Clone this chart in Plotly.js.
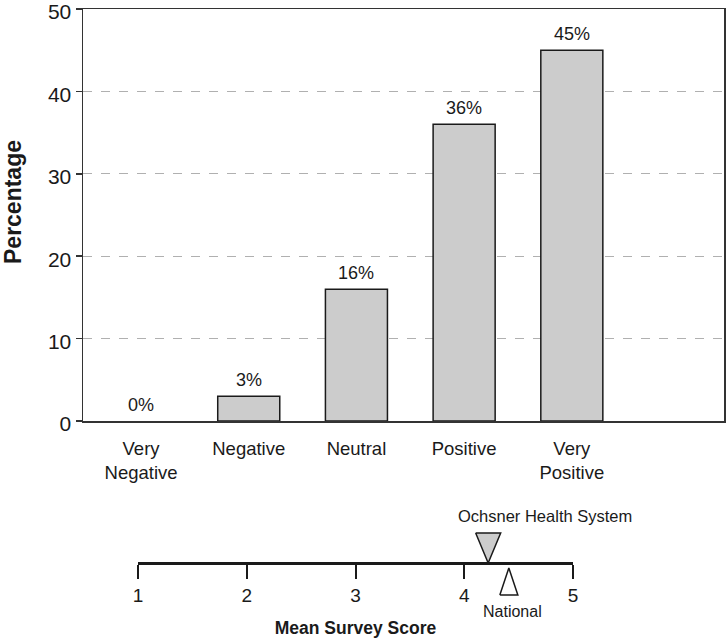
<!DOCTYPE html>
<html>
<head>
<meta charset="utf-8">
<script src="https://cdn.plot.ly/plotly-3.0.1.min.js"></script>
<style>html,body{margin:0;padding:0;background:#fff;}#chart{width:726px;height:642px;}</style>
</head>
<body>
<div id="chart"></div>
<script>
// ---- data ----
const categories = ["Very<br>Negative", "Negative", "Neutral", "Positive", "Very<br>Positive"];
const percentages = [0, 3, 16, 36, 45];
const yTicks = [0, 10, 20, 30, 40, 50];
const scoreTicks = [1, 2, 3, 4, 5];
const markerNames = ["Ochsner Health System", "National"];
const markerScores = [4.22, 4.41];

// ---- styling ----
const FONT = "Liberation Sans, Arial, Helvetica, sans-serif";
const INK = "#1a1a1a";
const catIdx = categories.map((_, i) => i);

const L = 83, R = 2, T = 9, B = 10;
const W = 726 - L - R, H = 642 - T - B;
const x2dom = [(138 - L) / W, (573 - L) / W];
const x2pxPerUnit = (573 - 138) / 4;
const y2dom = [(642 - B - 607) / H, (642 - B - 507) / H];
const y2range = [-44, 56];

const traces = [];
traces.push({
  type: "bar",
  x: catIdx,
  y: percentages,
  width: 0.576,
  marker: { color: "#cccccc", line: { color: INK, width: percentages.map(v => v > 0 ? 1.5 : 0) } },
  hoverinfo: "skip",
  xaxis: "x", yaxis: "y"
});

const triW = [25, 18], triH = [30, 27];
const triDir = [1, -1];
const triFill = ["#cccccc", "#ffffff"];
markerScores.forEach((s, i) => {
  const hw = triW[i] / 2 / x2pxPerUnit;
  let xs = [s - hw, s + hw, s, s - hw], ys;
  if (triDir[i] === 1) ys = [triH[i], triH[i], 0, triH[i]];
  else ys = [-5 - triH[i], -5 - triH[i], -5, -5 - triH[i]];
  traces.push({
    type: "scatter", mode: "lines", x: xs, y: ys,
    fill: "toself", fillcolor: triFill[i],
    line: { color: INK, width: 1.5 },
    hoverinfo: "skip",
    xaxis: "x2", yaxis: "y2"
  });
});

const annotations = percentages.map((v, i) => ({
  xref: "x", yref: "y", x: catIdx[i], y: v,
  yanchor: "bottom", xanchor: "center", yshift: 4,
  text: v + "%", showarrow: false,
  font: { family: FONT, size: 18, color: INK }
}));
annotations.push({
  xref: "x2", yref: "y2", x: markerScores[0], y: triH[0] + 6,
  xshift: 57, xanchor: "center", yanchor: "bottom",
  text: markerNames[0], showarrow: false,
  font: { family: FONT, size: 16.5, color: INK }
});
annotations.push({
  xref: "x2", yref: "y2", x: markerScores[1], y: -5 - triH[1] - 6,
  xshift: 4, xanchor: "center", yanchor: "top",
  text: markerNames[1], showarrow: false,
  font: { family: FONT, size: 16, color: INK }
});
// y-axis title (placed slightly above plot centre, as in the reference)
annotations.push({
  xref: "paper", yref: "paper", x: 0, y: (642 - B - 202) / H,
  xshift: 13 - L, xanchor: "center", yanchor: "middle",
  textangle: -90, text: "<b>Percentage</b>", showarrow: false,
  font: { family: FONT, size: 23, color: INK }
});

const layout = {
  width: 726, height: 642,
  margin: { l: L, r: R, t: T, b: B },
  paper_bgcolor: "#fff", plot_bgcolor: "#fff",
  showlegend: false,
  font: { family: FONT, color: INK },
  xaxis: {
    domain: [0, 1],
    range: [-0.539, 5.413],
    tickmode: "array", tickvals: catIdx, ticktext: categories,
    ticks: "", showgrid: false, zeroline: false,
    showline: true, linecolor: "#333", linewidth: 1.5, mirror: true,
    tickfont: { family: FONT, size: 18.5, color: INK },
    ticklabelstandoff: 10,
    fixedrange: true, anchor: "y"
  },
  yaxis: {
    domain: [(642 - B - 421) / H, 1],
    range: [0, 50],
    tickmode: "array", tickvals: yTicks,
    ticks: "outside", ticklen: 6, tickcolor: "#333", tickwidth: 1.5,
    ticklabeloverflow: "allow",
    ticklabelshift: 3,
    showgrid: true, gridcolor: "#b0b0b0", griddash: "dash", gridwidth: 1,
    zeroline: false,
    showline: true, linecolor: "#333", linewidth: 1.5, mirror: true,
    tickfont: { family: FONT, size: 21, color: INK },
    fixedrange: true, anchor: "x"
  },
  xaxis2: {
    domain: x2dom,
    range: [1, 5],
    tickmode: "array", tickvals: scoreTicks,
    ticks: "outside", ticklen: 14, tickwidth: 2, tickcolor: INK,
    showline: true, linecolor: INK, linewidth: 3,
    showgrid: false, zeroline: false,
    tickfont: { family: FONT, size: 19, color: INK },
    title: { text: "<b>Mean Survey Score</b>", font: { family: FONT, size: 17.5, color: INK }, standoff: 16 },
    anchor: "free", position: (642 - B - 563) / H,
    fixedrange: true
  },
  yaxis2: {
    domain: y2dom, range: y2range,
    visible: false, fixedrange: true, anchor: "x2"
  },
  annotations: annotations
};

Plotly.newPlot("chart", traces, layout, { staticPlot: true, displayModeBar: false });
</script>
</body>
</html>
